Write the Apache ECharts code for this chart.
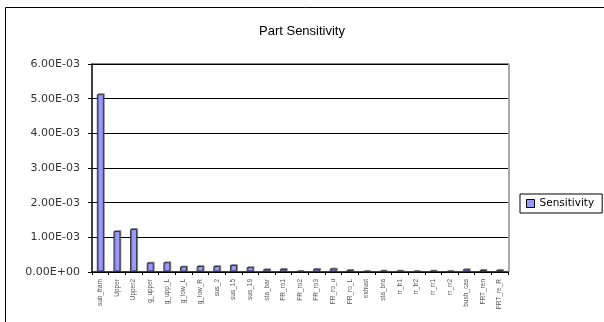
<!DOCTYPE html>
<html><head><meta charset="utf-8">
<script src="https://cdn.jsdelivr.net/npm/echarts@6/dist/echarts.min.js"></script>
<style>html,body{margin:0;padding:0;background:#fff}#c{width:604px;height:322px}</style>
</head><body><div id="c"></div>
<script>
const categories = ["sub_fram","Upper","Upper2","g_upper","g_upp_L","g_low_L","g_low_R","sus_2","sus_15","sus_19","sta_bar","FR_ro1","FR_ro2","FR_ro3","FR_ro_u","FR_ro_L","exhust","sta_bra","rr_fr1","rr_fr2","rr_rr1","rr_rr2","bush_cas","FRT_ren","FRT_re_R"];
const sensitivity = [5.13e-3,1.18e-3,1.24e-3,0.27e-3,0.28e-3,0.16e-3,0.17e-3,0.17e-3,0.2e-3,0.14e-3,0.08e-3,0.09e-3,0.02e-3,0.09e-3,0.1e-3,0.06e-3,0.02e-3,0.04e-3,0.04e-3,0.02e-3,0.04e-3,0.02e-3,0.08e-3,0.06e-3,0.06e-3];
const yTicks = ["0.00E+00","1.00E-03","2.00E-03","3.00E-03","4.00E-03","5.00E-03","6.00E-03"];
const chart = echarts.init(document.getElementById('c'));
chart.setOption({
  animation:false,
  graphic:[
    {type:'rect',shape:{x:5.5,y:7.5,width:620,height:330},style:{fill:'none',stroke:'#000',lineWidth:1}},
    {type:'rect',shape:{x:508,y:64,width:2,height:208},style:{fill:'#aaa'}},
    {type:'rect',shape:{x:92,y:63,width:417,height:1.5},style:{fill:'#888'}}
  ],
  title:{text:'Part Sensitivity',left:'center',top:20,textStyle:{fontFamily:'Liberation Sans',fontSize:13,fontWeight:'normal',color:'#000'}},
  legend:{left:520,top:194,orient:'vertical',icon:'rect',itemWidth:8,itemHeight:8,itemGap:0,padding:[4,8,4,6],borderColor:'#000',borderWidth:1,
    textStyle:{fontFamily:'DejaVu Sans',fontSize:10.5,color:'#000'},data:[{name:'Sensitivity',itemStyle:{borderColor:'#000',borderWidth:1}}]},
  grid:{left:92,right:96,top:64,bottom:50},
  xAxis:{type:'category',data:categories,
    axisLine:{lineStyle:{color:'#000',width:1.5}},
    axisTick:{show:true,interval:0,length:3,lineStyle:{color:'#000'}},
    axisLabel:{interval:0,rotate:90,fontSize:6.5,color:'#555',fontFamily:'Liberation Sans',margin:7}},
  yAxis:{type:'value',min:0,max:6e-3,interval:1e-3,
    axisLine:{show:true,lineStyle:{color:'#000',width:1.5}},
    axisTick:{show:true,length:4,lineStyle:{color:'#000'}},
    splitLine:{lineStyle:{color:'#000',width:1}},
    axisLabel:{fontSize:11,color:'#333',fontFamily:'DejaVu Sans',margin:12,formatter:(v)=>yTicks[Math.round(v/1e-3)]}},
  series:[{name:'Sensitivity',type:'bar',data:sensitivity,barWidth:7,
    itemStyle:{color:'#9999FF',borderColor:'#333',borderWidth:1,shadowColor:'rgba(0,0,0,0.35)',shadowOffsetX:1,shadowOffsetY:-1}}]
});
</script></body></html>
